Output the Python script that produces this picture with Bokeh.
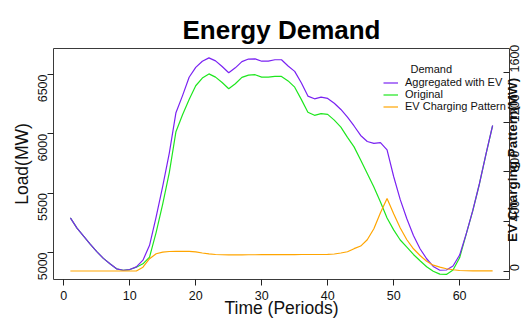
import math
from bokeh.plotting import figure
from bokeh.models import Range1d, LinearAxis, FixedTicker, Legend, LegendItem, Label
from bokeh.embed import file_html
from bokeh.resources import INLINE

# ---------------- data ----------------
periods = list(range(1, 66))

aggregated = [5292, 5205, 5137, 5070, 5007, 4950, 4905, 4862, 4850, 4856,
              4878, 4935, 5060, 5300, 5560, 5840, 6178, 6322, 6477, 6560,
              6612, 6640, 6615, 6567, 6515, 6556, 6608, 6630, 6632, 6612,
              6612, 6624, 6624, 6572, 6526, 6430, 6318, 6295, 6309, 6298,
              6258, 6205, 6140, 6066, 5986, 5935, 5920, 5926, 5865, 5640,
              5445, 5284, 5143, 5031, 4947, 4882, 4850, 4852, 4886, 4978,
              5157, 5354, 5579, 5831, 6070]

original = [5292, 5205, 5137, 5070, 5007, 4950, 4905, 4862, 4850, 4856,
            4876, 4904, 4961, 5170, 5410, 5675, 6018, 6160, 6290, 6405,
            6470, 6505, 6478, 6432, 6380, 6422, 6476, 6495, 6498, 6478,
            6478, 6484, 6484, 6446, 6393, 6290, 6182, 6156, 6170, 6164,
            6115, 6056, 5970, 5890, 5780, 5665, 5552, 5425, 5290, 5190,
            5105, 5045, 4983, 4930, 4880, 4842, 4817, 4815, 4852, 4955,
            5155, 5352, 5577, 5829, 6068]

ev_charging = [0, 0, 0, 0, 0, 0, 0, 0, 0, 0,
               0, 31, 99, 139, 152, 157, 158, 158, 158, 154,
               145, 138, 133, 131, 130, 130, 130, 131, 131, 132,
               132, 132, 132, 132, 132, 133, 133, 133, 133, 134,
               137, 145, 155, 180, 201, 252, 341, 470, 584, 462,
               346, 252, 179, 125, 79, 47, 31, 18, 10, 4,
               2, 1, 1, 1, 1]

x_ticks = [0, 10, 20, 30, 40, 50, 60]
load_ticks = [5000, 5500, 6000, 6500]
ev_ticks = [0, 400, 800, 1200, 1600]

series_labels = ["Aggregated with EV", "Original", "EV Charging Pattern"]

FONT = "Liberation Sans"
PURPLE = "#7A22F2"
GREEN = "#1EE61E"
ORANGE = "#FFA500"

# ---------------- figure ----------------
p = figure(width=530, height=320, output_backend="svg", toolbar_location=None,
           x_range=Range1d(-1.56, 67.56), y_range=Range1d(4772, 6719),
           min_border_left=53, min_border_right=21, min_border_top=48,
           min_border_bottom=41, title="Energy Demand")
p.extra_y_ranges = {"ev": Range1d(-68.5, 1793.5)}

p.background_fill_color = "white"
p.border_fill_color = "white"
p.outline_line_color = "#3a3a3a"
p.outline_line_width = 1
p.xgrid.visible = False
p.ygrid.visible = False

p.title.text_font = FONT
p.title.text_font_size = "26px"
p.title.text_font_style = "bold"
p.title.text_color = "#000000"
p.title.align = "center"
p.title.standoff = 8

def style_axis(ax):
    ax.axis_line_color = None
    ax.major_tick_line_color = "#222222"
    ax.major_tick_out = 6
    ax.major_tick_in = 0
    ax.minor_tick_line_color = None
    ax.major_label_text_font = FONT
    ax.major_label_text_font_size = "12.5px"
    ax.major_label_text_color = "#111111"
    ax.axis_label_text_font = FONT
    ax.axis_label_text_font_size = "17.5px"
    ax.axis_label_text_font_style = "normal"
    ax.axis_label_text_color = "#111111"

xa = p.xaxis[0]
style_axis(xa)
xa.ticker = FixedTicker(ticks=x_ticks)
xa.axis_label = "Time (Periods)"
xa.major_label_standoff = 5
xa.axis_label_standoff = -5

ya = p.yaxis[0]
style_axis(ya)
ya.ticker = FixedTicker(ticks=load_ticks)
ya.axis_label = "Load(MW)"
ya.major_label_orientation = math.pi / 2
ya.major_label_standoff = 5
ya.axis_label_standoff = -1

ra = LinearAxis(y_range_name="ev", ticker=FixedTicker(ticks=ev_ticks))
style_axis(ra)
ra.major_tick_out = 0
ra.major_tick_in = 6
ra.major_label_orientation = math.pi / 2
ra.major_label_standoff = 5
# non-breaking spaces lift the bottom-anchored title towards the centre
ra.axis_label = "\u00a0" * 10 + "EV Charging Pattern(MW)"
ra.axis_label_text_font_size = "13.5px"
ra.axis_label_text_font_style = "bold"
ra.axis_label_standoff = -14
ra.axis_label_align = "start"
ra.axis_label_orientation = math.pi / 2
p.add_layout(ra, "right")

# ---------------- series ----------------
r_orig = p.line(periods, original, line_color=GREEN, line_width=1.2)
r_agg = p.line(periods, aggregated, line_color=PURPLE, line_width=1.2)
r_ev = p.line(periods, ev_charging, line_color=ORANGE, line_width=1.2,
              y_range_name="ev")

legend = Legend(items=[LegendItem(label=series_labels[0], renderers=[r_agg]),
                       LegendItem(label=series_labels[1], renderers=[r_orig]),
                       LegendItem(label=series_labels[2], renderers=[r_ev])],
                location=(330, 167))
legend.padding = 0
legend.margin = 0
legend.spacing = 0
legend.border_line_color = None
legend.background_fill_alpha = 0
legend.glyph_width = 15
legend.glyph_height = 9
legend.label_height = 9
legend.label_standoff = 7
legend.label_text_font = FONT
legend.label_text_font_size = "11px"
legend.label_text_line_height = 0.8
legend.label_text_color = "#111111"
p.add_layout(legend)

legend_title = Label(x=55.7, y=6545, text="Demand", text_font=FONT,
                     text_font_size="11px", text_align="center",
                     text_baseline="middle", text_color="#111111")
p.add_layout(legend_title)

open("out.html", "w").write(file_html(p, INLINE))
